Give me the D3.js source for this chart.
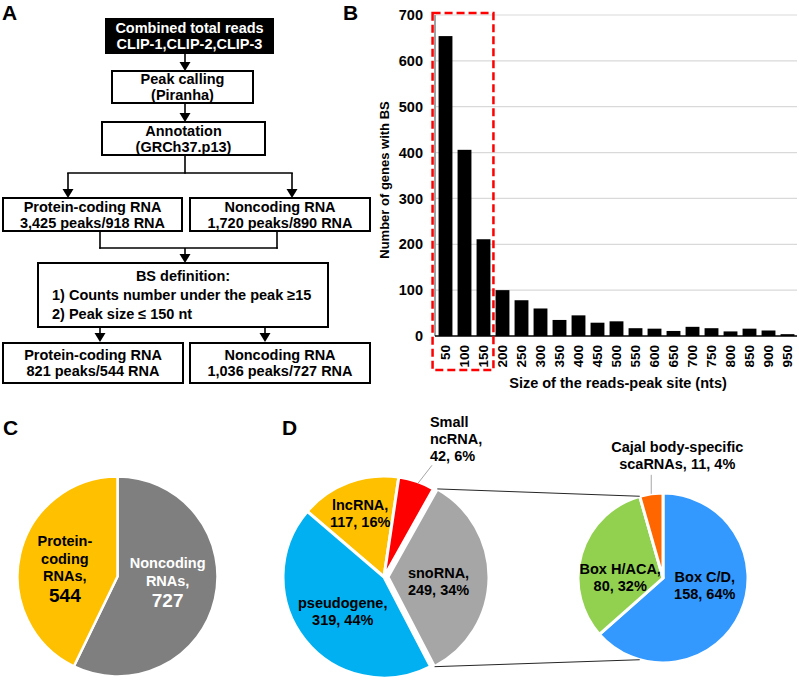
<!DOCTYPE html>
<html><head><meta charset="utf-8">
<script src="https://cdn.jsdelivr.net/npm/d3@7/dist/d3.min.js"></script>
<style>
body{margin:0;background:#fff}
svg{display:block}
text{font-family:"Liberation Sans",Arial,Helvetica,sans-serif;font-weight:bold}
</style>
</head><body>
<svg id="c" width="799" height="680"></svg>
<script>
// ---------- DATA ----------
const sizeBins = ["50","100","150","200","250","300","350","400","450","500","550","600","650","700","750","800","850","900","950"];
const genesWithBS = [654, 406, 211, 100, 78, 60, 35, 45, 29, 32, 17, 16, 11, 20, 17, 10, 16, 12, 4];
const yTicks = [0, 100, 200, 300, 400, 500, 600, 700];
const selectedBins = ["50","100","150"];

const rnaClasses = ["Noncoding RNAs", "Protein-coding RNAs"];
const rnaCounts = [727, 544];
const rnaLabelLines = [["Noncoding","RNAs,"], ["Protein-","coding","RNAs,"]];

const ncClasses = ["lncRNA", "Small ncRNA", "snoRNA", "pseudogene"];
const ncCounts = [117, 42, 249, 319];
const ncLabelNames = [["lncRNA,"], ["Small","ncRNA,"], ["snoRNA,"], ["pseudogene,"]];

const snoClasses = ["Box C/D", "Box H/ACA", "Cajal body-specific scaRNAs"];
const snoCounts = [158, 80, 11];
const snoPct = ["64%", "32%", "4%"];
const snoLabelNames = [["Box C/D,"], ["Box H/ACA,"], ["Cajal body-specific"]];

const flowTexts = [
  ["Combined total reads", "CLIP-1,CLIP-2,CLIP-3"],
  ["Peak calling", "(Piranha)"],
  ["Annotation", "(GRCh37.p13)"],
  ["Protein-coding RNA", "3,425 peaks/918 RNA"],
  ["Noncoding RNA", "1,720 peaks/890 RNA"],
  ["BS definition:", "1) Counts number under the peak \u226515", "2) Peak size \u2264 150 nt"],
  ["Protein-coding RNA", "821 peaks/544 RNA"],
  ["Noncoding RNA", "1,036 peaks/727 RNA"]
];

// ---------- SETUP ----------
const svg = d3.select("#c");
function label(g, x, y, s, size, anchor, fill) {
  return g.append("text").attr("x", x).attr("y", y).attr("font-size", size)
    .attr("text-anchor", anchor || "middle").attr("fill", fill || "#000").text(s);
}
// panel letters
[["A",2,20],["B",343,20],["C",3,435],["D",282,435]].forEach(([t,x,y]) => label(svg, x, y, t, 21, "start"));

// ---------- PANEL A : flowchart ----------
const gA = svg.append("g");
const boxGeo = [
  [106,19,273,53], [112,71,253,103], [102,122,265,155],
  [3,198,182,231], [190,198,370,231],
  [38,263,328,327],
  [3,343,183,383], [190,343,370,383]
];
boxGeo.forEach((b, i) => {
  const dark = i === 0;
  gA.append("rect").attr("x", b[0]).attr("y", b[1]).attr("width", b[2]-b[0]).attr("height", b[3]-b[1])
    .attr("fill", dark ? "#000" : "#fff").attr("stroke", "#000").attr("stroke-width", 2);
  const lines = flowTexts[i];
  const cx = (b[0]+b[2])/2;
  if (i === 5) {
    label(gA, cx, b[1]+18, lines[0], 14.5, "middle");
    label(gA, 52, b[1]+37, lines[1], 14.5, "start");
    label(gA, 52, b[1]+56, lines[2], 14.5, "start");
  } else {
    const h = b[3]-b[1];
    const base = b[1] + h/2 - 3;
    label(gA, cx, base, lines[0], 14.5, "middle", dark ? "#fff" : "#000");
    label(gA, cx, base + 16, lines[1], 14.5, "middle", dark ? "#fff" : "#000");
  }
});
function arrow(x, y1, y2) {
  gA.append("line").attr("x1", x).attr("x2", x).attr("y1", y1).attr("y2", y2-8)
    .attr("stroke", "#000").attr("stroke-width", 1.6);
  gA.append("path").attr("d", `M${x-5.5},${y2-9}L${x+5.5},${y2-9}L${x},${y2}Z`).attr("fill", "#000");
}
function seg(x1, y1, x2, y2) {
  gA.append("line").attr("x1", x1).attr("y1", y1).attr("x2", x2).attr("y2", y2)
    .attr("stroke", "#000").attr("stroke-width", 1.6).attr("stroke-linecap", "square");
}
arrow(185, 53, 71);
arrow(185, 103, 122);
seg(185, 155, 185, 173); seg(68, 173, 292, 173);
arrow(68, 173, 198); arrow(292, 173, 198);
seg(100, 231, 100, 248); seg(277, 231, 277, 248); seg(100, 248, 277, 248);
arrow(185, 248, 263);
arrow(100, 327, 342); arrow(265, 327, 342);

// ---------- PANEL B : bar chart ----------
const gB = svg.append("g");
const x = d3.scaleBand().domain(sizeBins).range([436, 797]).paddingInner(0.27).paddingOuter(0.135);
const y = d3.scaleLinear().domain([0, 700]).range([336, 15]);

gB.selectAll("line.grid").data(yTicks.filter(t => t > 0)).join("line").attr("class", "grid")
  .attr("x1", 436).attr("x2", 797).attr("y1", d => y(d)).attr("y2", d => y(d))
  .attr("stroke", "#d9d9d9").attr("stroke-width", 1.2);

gB.selectAll("rect.bar").data(genesWithBS).join("rect").attr("class", "bar")
  .attr("x", (d, i) => x(sizeBins[i])).attr("width", x.bandwidth())
  .attr("y", d => y(d)).attr("height", d => y(0) - y(d)).attr("fill", "#000");

gB.append("line").attr("x1", 435).attr("x2", 435).attr("y1", y(700)).attr("y2", y(0)).attr("stroke", "#404040").attr("stroke-width", 1);
gB.append("line").attr("x1", 435).attr("x2", 797).attr("y1", y(0)).attr("y2", y(0)).attr("stroke", "#000").attr("stroke-width", 1.5);

const yAx = gB.append("g").attr("transform", "translate(435,0)")
  .call(d3.axisLeft(y).tickValues(yTicks).tickSize(0).tickPadding(12));
yAx.select(".domain").remove();
yAx.selectAll("text").attr("font-size", 14.5).attr("font-family", null).attr("fill", "#000");

const xAx = gB.append("g").attr("transform", `translate(0,${y(0)})`)
  .call(d3.axisBottom(x).tickSize(0));
xAx.select(".domain").remove();
xAx.selectAll("text").attr("font-size", 13.5).attr("font-family", null).attr("fill", "#000")
  .attr("transform", "rotate(-90)").attr("x", -9).attr("y", 0).attr("dy", "0.36em").attr("text-anchor", "end");

// red dashed selection
const selL = x(selectedBins[0]) - 6, selR = x(selectedBins[selectedBins.length-1]) + x.bandwidth() + 3;
gB.append("rect").attr("x", selL).attr("y", y(700) - 2).attr("width", selR - selL).attr("height", 370 - (y(700) - 2))
  .attr("fill", "none").attr("stroke", "#ff0000").attr("stroke-width", 2.5).attr("stroke-dasharray", "8,4");

label(gB, 0, 0, "Number of genes with BS", 13, "middle").attr("transform", "translate(389,180) rotate(-90)");
label(gB, 618, 388, "Size of the reads-peak site (nts)", 14.5, "middle");

// ---------- PANEL C : pie ----------
const gC = svg.append("g").attr("transform", "translate(117.5,576.5)");
const rC = 100;
const pieC = d3.pie().sort(null).value(d => d)(rnaCounts);
const arcC = d3.arc().innerRadius(0).outerRadius(rC);
const colC = ["#7f7f7f", "#ffc000"];
gC.selectAll("path").data(pieC).join("path").attr("d", arcC)
  .attr("fill", (d, i) => colC[i]).attr("stroke", "#fff").attr("stroke-width", 2.5);
const lArcC = d3.arc().innerRadius(rC*0.53).outerRadius(rC*0.53);
pieC.forEach((d, i) => {
  const [cx, cy] = lArcC.centroid(d);
  const lines = rnaLabelLines[i];
  const fill = i === 0 ? "#fff" : "#000";
  const n = lines.length;
  const top = i === 0 ? cy - 20 : cy - 18.5;
  const lx = i === 0 ? cx - 1.5 : cx - 1;
  lines.forEach((s, k) => label(gC, lx, top + k*17.5, s, 14.5, "middle", fill));
  label(gC, lx, top + (n-1)*17.5 + 21, String(rnaCounts[i]), 19, "middle", fill);
});

// ---------- PANEL D : pie of pie ----------
const cD1 = [384, 577], rD1 = 101;
const cD2 = [663, 578], rD2 = 85;
const deg = Math.PI/180;
const a0 = -49.5*deg;
const pieD1 = d3.pie().sort(null).value(d => d).startAngle(a0).endAngle(a0 + 2*Math.PI)(ncCounts);
const arcD1 = d3.arc().innerRadius(0).outerRadius(rD1);
const colD1 = ["#ffc000", "#ff0000", "#a6a6a6", "#00b0f0"];
const snoIdx = 2, explode = 4;
const gD1 = svg.append("g").attr("transform", `translate(${cD1[0]},${cD1[1]})`);
function offs(d, e) { const m = (d.startAngle + d.endAngle)/2; return [e*Math.sin(m), -e*Math.cos(m)]; }
gD1.selectAll("path").data(pieD1).join("path").attr("d", arcD1)
  .attr("transform", (d, i) => { const o = i === snoIdx ? offs(d, explode) : [0,0]; return `translate(${o[0]},${o[1]})`; })
  .attr("fill", (d, i) => colD1[i]).attr("stroke", "#fff").attr("stroke-width", 3);

const totD1 = d3.sum(ncCounts);
const pctD1 = ncCounts.map(c => Math.round(c/totD1*100) + "%");
const lArcD1 = d3.arc().innerRadius(rD1*0.56).outerRadius(rD1*0.56);
pieD1.forEach((d, i) => {
  const valLine = ncCounts[i] + ", " + pctD1[i];
  if (i === 1) {
    // small ncRNA: outside label with leader
    const m = (d.startAngle + d.endAngle)/2;
    const px = rD1*0.98*Math.sin(m), py = -rD1*0.98*Math.cos(m);
    const lx = px + 16, ly = py - 18;
    gD1.append("line").attr("x1", px + 2).attr("y1", py).attr("x2", lx).attr("y2", ly).attr("stroke", "#a6a6a6").attr("stroke-width", 1);
    const lines = ncLabelNames[i].concat([valLine]);
    lines.forEach((s, k) => label(gD1, lx - 2, ly - 38 + k*17, s, 14.5, "start"));
  } else {
    let [cx, cy] = lArcD1.centroid(d);
    if (i === snoIdx) { const o = offs(d, explode); cx += o[0]; cy += o[1]; }
    const adj = [[-4, -14], null, [-6, 0], [3, -4]][i];
    const lines = ncLabelNames[i].concat([valLine]);
    lines.forEach((s, k) => label(gD1, cx + adj[0], cy + adj[1] + k*17, s, 14.5, "middle"));
  }
});

const pieD2 = d3.pie().sort(null).value(d => d)(snoCounts);
const arcD2 = d3.arc().innerRadius(0).outerRadius(rD2);
const colD2 = ["#3399ff", "#92d050", "#ff6600"];
const gD2 = svg.append("g").attr("transform", `translate(${cD2[0]},${cD2[1]})`);
gD2.selectAll("path").data(pieD2).join("path").attr("d", arcD2)
  .attr("fill", (d, i) => colD2[i]).attr("stroke", "#fff").attr("stroke-width", 3);
const lArcD2 = d3.arc().innerRadius(rD2*0.5).outerRadius(rD2*0.5);
pieD2.forEach((d, i) => {
  const valLine = snoCounts[i] + ", " + snoPct[i];
  if (i === 2) {
    const m = (d.startAngle + d.endAngle)/2;
    const px = rD2*Math.sin(m), py = -rD2*Math.cos(m);
    gD2.append("line").attr("x1", px).attr("y1", py).attr("x2", px).attr("y2", py - 19).attr("stroke", "#a6a6a6").attr("stroke-width", 1);
    label(gD2, px + 26, py - 42, snoLabelNames[i][0], 14.5, "middle");
    label(gD2, px + 26, py - 25, "scaRNAs, " + valLine, 14.5, "middle");
  } else {
    const [cx, cy] = lArcD2.centroid(d);
    const adj = [[3, -13], [-2, 8]][i];
    label(gD2, cx + adj[0], cy + adj[1], snoLabelNames[i][0], 14.5, "middle");
    label(gD2, cx + adj[0], cy + adj[1] + 17, valLine, 14.5, "middle");
  }
});

// connector lines
const sno = pieD1[snoIdx], eo = offs(sno, explode);
const p1 = [cD1[0] + eo[0] + rD1*Math.sin(sno.startAngle), cD1[1] + eo[1] - rD1*Math.cos(sno.startAngle)];
const p2 = [cD1[0] + eo[0] + rD1*Math.sin(sno.endAngle), cD1[1] + eo[1] - rD1*Math.cos(sno.endAngle)];
const tA = pieD2[2].startAngle, bA = 3*Math.PI - tA;
const q1 = [cD2[0] + rD2*Math.sin(tA), cD2[1] - rD2*Math.cos(tA)];
const q2 = [cD2[0] + rD2*Math.sin(bA), cD2[1] - rD2*Math.cos(bA)];
[[p1,q1],[p2,q2]].forEach(([a,b]) => svg.append("line").attr("x1", a[0]).attr("y1", a[1]).attr("x2", b[0]).attr("y2", b[1])
  .attr("stroke", "#262626").attr("stroke-width", 1));
</script>
</body></html>
